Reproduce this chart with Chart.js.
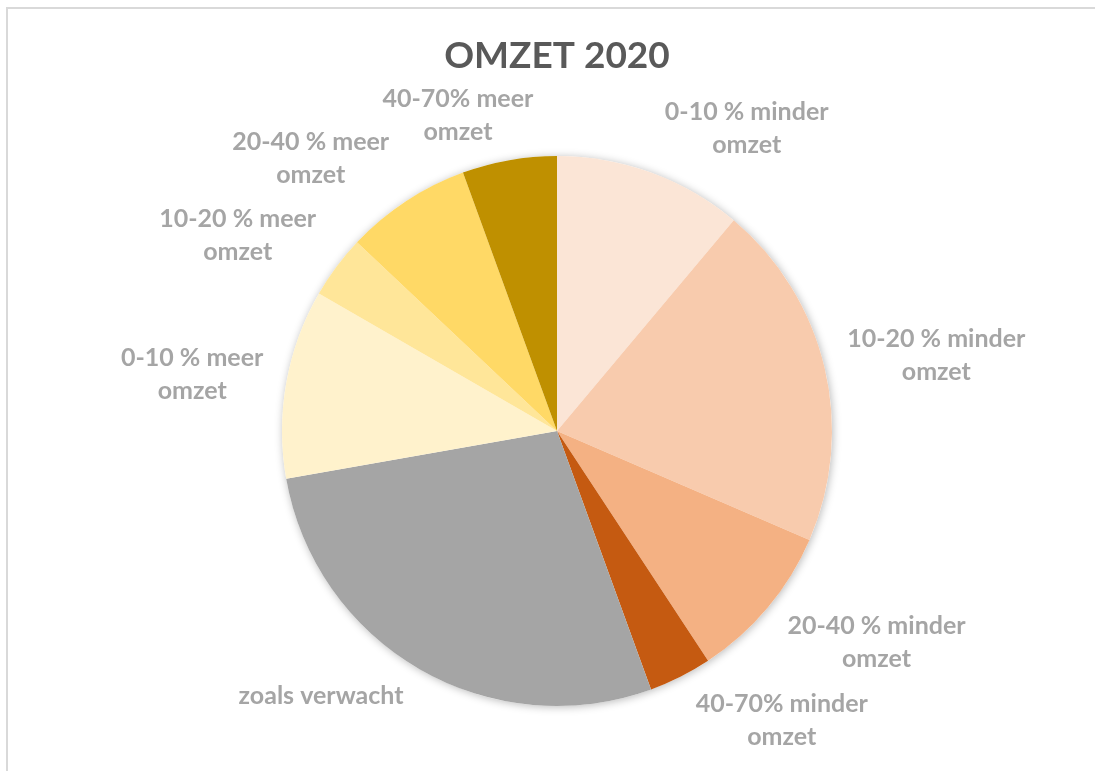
<!DOCTYPE html>
<html>
<head>
<meta charset="utf-8">
<script src="https://cdn.jsdelivr.net/npm/chart.js@4"></script>
<style>
  html, body { margin: 0; padding: 0; background: #ffffff; }
  #wrap { position: relative; width: 1095px; height: 771px; overflow: hidden; }
  #frame {
    position: absolute; left: 6px; top: 7px; right: -10px; bottom: -10px;
    border-left: 2px solid #D9D9D9; border-top: 2px solid #D9D9D9;
  }
  #omzetChart { position: absolute; left: 0; top: 0; }
</style>
</head>
<body>
<div id="wrap">
  <div id="frame"></div>
  <canvas id="omzetChart" width="1095" height="771"></canvas>
</div>
<script>
// categories (each label split into its two display lines)
const categories = [
    ['0-10 % minder', 'omzet'],
    ['10-20 % minder', 'omzet'],
    ['20-40 % minder', 'omzet'],
    ['40-70% minder', 'omzet'],
    ['zoals verwacht'],
    ['0-10 % meer', 'omzet'],
    ['10-20 % meer', 'omzet'],
    ['20-40 % meer', 'omzet'],
    ['40-70% meer', 'omzet']
];

// number of answers per category
const answers = [6, 11, 5, 2, 15, 6, 2, 4, 3];

const sliceColors = [
    '#FBE5D6', '#F8CBAD', '#F4B183', '#C55A11', '#A5A5A5',
    '#FFF2CC', '#FFE699', '#FFD966', '#BF9000'
];

const chartTitle = 'OMZET 2020';
const labelColor = '#A5A5A5';
const labelFont = 'bold 25px Lato';
const labelLineHeight = 33;

// soft shadow under the whole pie, like the Excel original
const pieShadow = {
    id: 'pieShadow',
    beforeDatasetsDraw(chart) {
        const arc = chart.getDatasetMeta(0).data[0];
        if (!arc) return;
        const { x, y, outerRadius } = arc.getProps(['x', 'y', 'outerRadius'], true);
        const ctx = chart.ctx;
        ctx.save();
        ctx.shadowColor = 'rgba(0,0,0,0.28)';
        ctx.shadowBlur = 8;
        ctx.shadowOffsetX = 1;
        ctx.shadowOffsetY = 1;
        ctx.fillStyle = '#ffffff';
        ctx.beginPath();
        ctx.arc(x, y, outerRadius, 0, Math.PI * 2);
        ctx.fill();
        ctx.restore();
    }
};

// category names outside the slices ("outside end" labels)
const outsideLabels = {
    id: 'outsideLabels',
    afterDatasetsDraw(chart) {
        const ctx = chart.ctx;
        const meta = chart.getDatasetMeta(0);
        const clamp = v => Math.max(-1, Math.min(1, v));
        ctx.save();
        ctx.font = labelFont;
        ctx.fillStyle = labelColor;
        ctx.textAlign = 'center';
        ctx.textBaseline = 'middle';
        meta.data.forEach((arc, i) => {
            const p = arc.getProps(['x', 'y', 'startAngle', 'endAngle', 'outerRadius'], true);
            const mid = (p.startAngle + p.endAngle) / 2;
            const dx = Math.cos(mid);
            const dy = Math.sin(mid);
            const ax = p.x + (p.outerRadius + 14) * dx + 9 * clamp(dx / 0.3);
            const ay = p.y + (p.outerRadius + 12) * dy;
            const lines = chart.data.labels[i];
            const w = Math.max(...lines.map(l => ctx.measureText(l).width));
            const h = lines.length * labelLineHeight;
            const cx = ax + (w / 2) * clamp(dx / 0.3);
            const cy = ay + (h / 2) * clamp(dy / 0.8);
            lines.forEach((line, k) => {
                ctx.fillText(line, cx, cy - h / 2 + labelLineHeight * (k + 0.5));
            });
        });
        ctx.restore();
    }
};

let omzetChart;

function createChart() {
    const ctx = document.getElementById('omzetChart').getContext('2d');
    try {
        omzetChart = new Chart(ctx, {
            type: 'pie',
            data: {
                labels: categories,
                datasets: [{
                    data: answers,
                    backgroundColor: sliceColors,
                    borderWidth: 0
                }]
            },
            options: {
                responsive: false,
                animation: false,
                layout: { padding: { top: 0, left: 282, right: 263, bottom: 65 } },
                plugins: {
                    legend: { display: false },
                    tooltip: { enabled: false },
                    title: {
                        display: true,
                        text: chartTitle,
                        color: '#595959',
                        font: { family: 'Lato', size: 37, weight: 'bold', lineHeight: 1.2 },
                        padding: { top: 34, bottom: 77.6 }
                    }
                }
            },
            plugins: [pieShadow, outsideLabels]
        });
    } catch (error) {
        console.error('Error creating omzet chart:', error);
    }
}

createChart();
</script>
</body>
</html>
